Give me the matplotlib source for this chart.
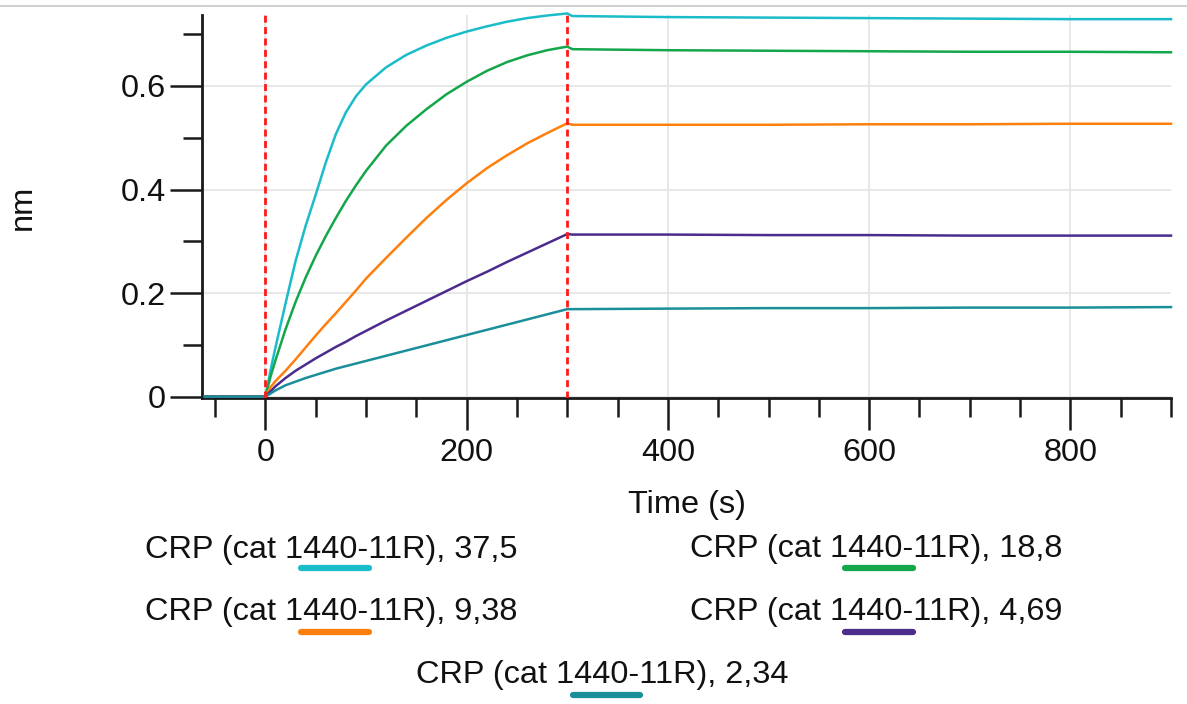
import matplotlib
matplotlib.use("Agg")
import matplotlib.pyplot as plt
from matplotlib.lines import Line2D
from matplotlib.ticker import FixedLocator, MultipleLocator

plt.rcParams['font.family'] = ['Liberation Sans', 'DejaVu Sans']

# sensorgram data (time in s, response in nm)
time_s = [-60, -30, 0, 5, 10, 20, 30, 40, 50, 60, 70, 80, 90, 100, 120, 140, 160, 180,
          200, 220, 240, 260, 280, 300, 305, 400, 500, 600, 700, 800, 900]

crp_37_5 = [0, 0, 0, 0.050, 0.095, 0.180, 0.262, 0.330, 0.390, 0.452, 0.507, 0.549, 0.580,
            0.603, 0.636, 0.660, 0.678, 0.693, 0.705, 0.715, 0.724, 0.731, 0.736, 0.740,
            0.735, 0.733, 0.732, 0.731, 0.730, 0.729, 0.729]
crp_18_8 = [0, 0, 0, 0.038, 0.070, 0.130, 0.183, 0.230, 0.272, 0.310, 0.345, 0.378, 0.408,
            0.436, 0.485, 0.523, 0.555, 0.584, 0.608, 0.629, 0.646, 0.659, 0.669, 0.676,
            0.671, 0.669, 0.668, 0.667, 0.666, 0.666, 0.665]
crp_9_38 = [0, 0, 0, 0.018, 0.030, 0.050, 0.072, 0.095, 0.118, 0.140, 0.161, 0.183, 0.205,
            0.228, 0.268, 0.307, 0.345, 0.380, 0.412, 0.441, 0.466, 0.489, 0.509, 0.528,
            0.525, 0.525, 0.525, 0.526, 0.526, 0.527, 0.527]
crp_4_69 = [0, 0, 0, 0.010, 0.020, 0.036, 0.050, 0.062, 0.074, 0.085, 0.096, 0.106, 0.117,
            0.127, 0.147, 0.166, 0.185, 0.204, 0.223, 0.241, 0.260, 0.278, 0.296, 0.314,
            0.313, 0.313, 0.312, 0.312, 0.311, 0.311, 0.311]
crp_2_34 = [0, 0, 0, 0.006, 0.012, 0.022, 0.029, 0.036, 0.042, 0.048, 0.054, 0.059, 0.064,
            0.069, 0.079, 0.089, 0.099, 0.109, 0.119, 0.129, 0.139, 0.149, 0.159, 0.169,
            0.169, 0.170, 0.171, 0.171, 0.172, 0.172, 0.173]

series = [crp_37_5, crp_18_8, crp_9_38, crp_4_69, crp_2_34]
labels = ["CRP (cat 1440-11R), 37,5", "CRP (cat 1440-11R), 18,8",
          "CRP (cat 1440-11R), 9,38", "CRP (cat 1440-11R), 4,69",
          "CRP (cat 1440-11R), 2,34"]
colors = ['#1bbcc9', '#14a64a', '#ff7f0e', '#4a2c8c', '#1a8f9a']

step_times = [0, 300]
x_major = [0, 200, 400, 600, 800]
y_major = [0, 0.2, 0.4, 0.6]
y_labels = ["0", "0.2", "0.4", "0.6"]

W, H = 1187, 704
FS = 23.4
fig = plt.figure(figsize=(W / 100, H / 100), dpi=100)


def fx(px):
    return px / W


def fy(py):
    return 1 - py / H


ax = fig.add_axes([fx(202), fy(397.7), fx(1171) - fx(202), fy(15) - fy(397.7)])

for vals, c in zip(series, colors):
    ax.plot(time_s, vals, color=c, lw=1.8, clip_on=False, zorder=3)

for t in step_times:
    ax.axvline(t, color='#ff1a1a', lw=2.0, dashes=(2.5, 1.6), zorder=4)

ax.set_xlim(-63, 900)
ax.set_ylim(-0.002, 0.737)

ax.xaxis.set_major_locator(FixedLocator(x_major))
ax.xaxis.set_minor_locator(MultipleLocator(50))
ax.yaxis.set_major_locator(FixedLocator(y_major))
ax.yaxis.set_minor_locator(MultipleLocator(0.1))
ax.set_yticklabels(y_labels)

ax.grid(True, which='major', color='#e4e4e4', lw=1.2, zorder=0)
ax.set_axisbelow(True)

for s in ['top', 'right']:
    ax.spines[s].set_visible(False)
for s in ['left', 'bottom']:
    ax.spines[s].set_linewidth(2.0)
    ax.spines[s].set_color('#1a1a1a')

ax.tick_params(which='major', direction='out', length=23, width=1.8, color='#1a1a1a',
               labelsize=FS, labelcolor='#111111')
ax.tick_params(axis='x', which='major', pad=6)
ax.tick_params(axis='y', which='major', pad=3)
ax.tick_params(which='minor', direction='out', length=14, width=1.8, color='#1a1a1a')

fig.text(fx(686.5), fy(513), "Time (s)", ha='center', va='baseline', fontsize=FS,
         color='#111111')
fig.text(fx(22.5), fy(207), "nm", ha='center', va='center', rotation=90, fontsize=FS,
         color='#111111')

# legend: label text with a short colored bar under it
legend_slots = [(145, 558, 301, 369, 568), (690, 557, 845, 913, 568),
                (145, 620, 301, 369, 632), (690, 620, 845, 913, 632),
                (416, 683, 573, 640, 695)]
for lab, c, (tx, ty, lx0, lx1, ly) in zip(labels, colors, legend_slots):
    fig.text(fx(tx), fy(ty), lab, ha='left', va='baseline', fontsize=FS, color='#111111')
    fig.add_artist(Line2D([fx(lx0), fx(lx1)], [fy(ly), fy(ly)], color=c, lw=4.5,
                          solid_capstyle='round', transform=fig.transFigure))

# thin frame line at the top of the screenshot
fig.add_artist(Line2D([0, 1], [fy(6), fy(6)], color='#c8c8c8', lw=1.2,
                      transform=fig.transFigure))

fig.savefig("out.png", dpi=100)
